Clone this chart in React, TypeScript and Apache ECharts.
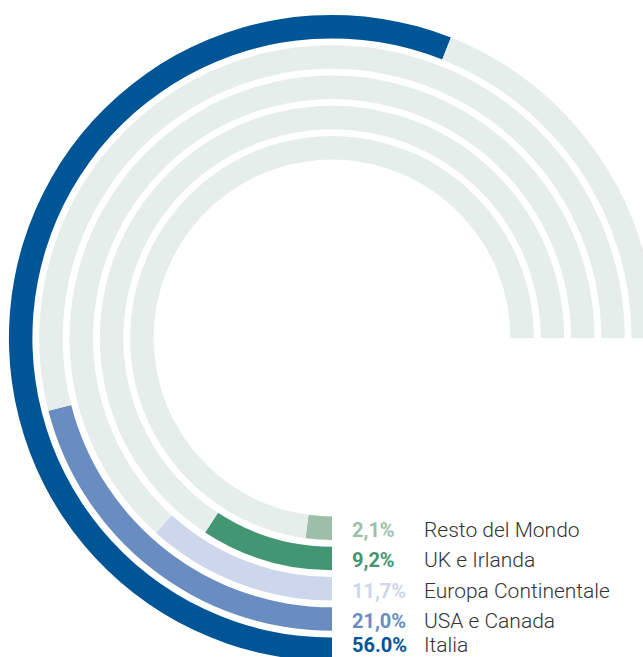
import React, { useEffect, useRef } from "react";
import * as echarts from "echarts";

// Data (inner ring to outer ring)
const categories = ["Resto del Mondo", "UK e Irlanda", "Europa Continentale", "USA e Canada", "Italia"];
const values = [2.1, 9.2, 11.7, 21.0, 56.0];
const valueLabels = ["2,1%", "9,2%", "11,7%", "21,0%", "56.0%"];
const colors = ["#9dbfa9", "#439673", "#cdd6eb", "#6a8dc1", "#005596"];
const trackMax = 75;

const CX = 332;
const CY = 338;
const R0 = 175;
const R1 = 326.5;

export default function App() {
  const ref = useRef<HTMLDivElement>(null);
  useEffect(() => {
    if (!ref.current) return;
    const chart = echarts.init(ref.current, null, { renderer: "svg" });
    const band = (R1 - R0) / categories.length;
    const graphics: any[] = [];
    categories.forEach((name, i) => {
      const y = Math.min(CY + R0 + band * (i + 0.5) + 2, 645);
      graphics.push({
        type: "text",
        x: 352,
        y,
        style: {
          text: valueLabels[i],
          fill: colors[i],
          font: "bold 20px Roboto",
          verticalAlign: "middle",
          align: "left",
        },
      });
      graphics.push({
        type: "text",
        x: 424,
        y,
        style: {
          text: name,
          fill: "#333333",
          font: "300 21px Roboto",
          verticalAlign: "middle",
          align: "left",
        },
      });
    });
    chart.setOption({
      animation: false,
      polar: { center: [CX, CY], radius: [R0, R1] },
      angleAxis: {
        type: "value",
        min: 0,
        max: 100,
        startAngle: 270,
        clockwise: true,
        show: false,
      },
      radiusAxis: {
        type: "category",
        data: categories,
        show: false,
      },
      series: [
        {
          type: "bar",
          coordinateSystem: "polar",
          stack: "ring",
          data: values.map((v, i) => ({ value: v, itemStyle: { color: colors[i] } })),
          barWidth: 23.5,
          silent: true,
        },
        {
          type: "bar",
          coordinateSystem: "polar",
          stack: "ring",
          data: values.map((v) => trackMax - v),
          barWidth: 23.5,
          itemStyle: { color: "#e6eeec" },
          silent: true,
        },
      ],
      graphic: graphics,
    });
    return () => chart.dispose();
  }, []);
  return (
    <div
      ref={ref}
      style={{ position: "fixed", left: 0, top: 0, width: 643, height: 657, background: "#fff" }}
    />
  );
}
